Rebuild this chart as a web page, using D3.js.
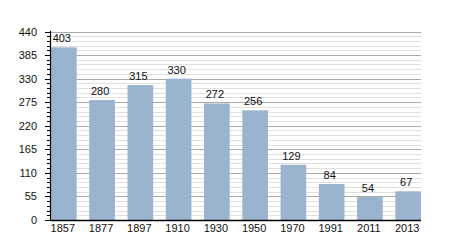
<!DOCTYPE html>
<html lang="en">
<head>
  <meta charset="UTF-8">
  <title>Population by year</title>
  <script src="https://d3js.org/d3.v7.min.js"></script>
  <style>
    body { margin: 0; background: #fff; }
    svg { display: block; font-family: 'Liberation Sans', Arial, sans-serif; }
    .lbl { font-size: 11px; fill: #111; }
  </style>
</head>
<body>
  <svg id="chart" width="450" height="250"></svg>
  <script>
    const years = ["1857", "1877", "1897", "1910", "1930", "1950", "1970", "1991", "2011", "2013"];
    const population = [403, 280, 315, 330, 272, 256, 129, 84, 54, 67];
    const majorTicks = [0, 55, 110, 165, 220, 275, 330, 385, 440];
    const minorStep = 11;

    const svg = d3.select("#chart");
    const x = d3.scaleBand().domain(years).range([51, 421]).paddingInner(0.33).paddingOuter(0);
    const y = d3.scaleLinear().domain([0, 440]).range([220, 31.5]);
    const minorTicks = d3.range(0, 441, minorStep).filter(v => v % 55 !== 0);

    // grid
    svg.append("g").selectAll("line").data(minorTicks).join("line")
      .attr("x1", 50).attr("x2", 421)
      .attr("y1", d => Math.round(y(d)) + 0.5).attr("y2", d => Math.round(y(d)) + 0.5)
      .attr("stroke", "#e0e0e0");
    svg.append("g").selectAll("line").data(majorTicks.filter(d => d > 0)).join("line")
      .attr("x1", 50).attr("x2", 421)
      .attr("y1", d => Math.round(y(d)) + 0.5).attr("y2", d => Math.round(y(d)) + 0.5)
      .attr("stroke", "#aaaaaa");

    // bars
    svg.append("g").selectAll("rect").data(years).join("rect")
      .attr("x", d => x(d))
      .attr("width", x.bandwidth())
      .attr("y", (d, i) => y(population[i]))
      .attr("height", (d, i) => y(0) - y(population[i]))
      .attr("fill", "#9ab3ce");

    // value labels
    svg.append("g").selectAll("text").data(years).join("text")
      .attr("class", "lbl")
      .attr("x", d => x(d) + x.bandwidth() / 2 - 2)
      .attr("y", (d, i) => y(population[i]) - 5)
      .attr("text-anchor", "middle")
      .text((d, i) => population[i]);

    // y axis
    const yAxis = svg.append("g");
    yAxis.selectAll("line.minor").data(minorTicks).join("line")
      .attr("x1", 47).attr("x2", 50)
      .attr("y1", d => Math.round(y(d)) + 0.5).attr("y2", d => Math.round(y(d)) + 0.5)
      .attr("stroke", "#000");
    yAxis.selectAll("line.major").data(majorTicks).join("line")
      .attr("x1", 45).attr("x2", 50)
      .attr("y1", d => Math.round(y(d)) + 0.5).attr("y2", d => Math.round(y(d)) + 0.5)
      .attr("stroke", "#000");
    yAxis.selectAll("text").data(majorTicks).join("text")
      .attr("class", "lbl")
      .attr("x", 37).attr("y", d => y(d) + 4)
      .attr("text-anchor", "end")
      .text(d => d);
    svg.append("line").attr("x1", 50.5).attr("x2", 50.5).attr("y1", 31).attr("y2", 221)
      .attr("stroke", "#000").attr("stroke-width", 1.2);

    // x axis
    svg.append("line").attr("x1", 50).attr("x2", 421).attr("y1", 220.5).attr("y2", 220.5)
      .attr("stroke", "#000").attr("stroke-width", 1.4);
    svg.append("g").selectAll("text").data(years).join("text")
      .attr("class", "lbl")
      .attr("x", d => x(d) + x.bandwidth() / 2 - 1)
      .attr("y", 232)
      .attr("text-anchor", "middle")
      .text(d => d);
  </script>
</body>
</html>
